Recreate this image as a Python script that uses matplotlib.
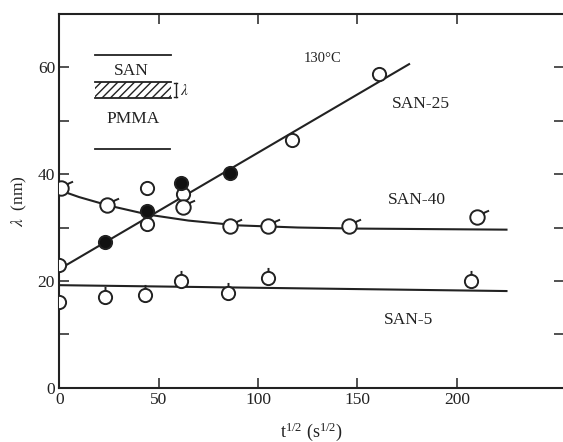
import numpy as np
import matplotlib.pyplot as plt
from matplotlib.path import Path

plt.rcParams['font.family'] = ['Liberation Serif', 'DejaVu Serif']
plt.rcParams['mathtext.fontset'] = 'stix'
ink = '#222222'

# SAN-25 (open and filled points) and fitted line
san25_open_x = [0, 44, 62, 117, 161]
san25_open_y = [22.9, 30.7, 36.2, 46.4, 58.8]
san25_fill_x = [23, 44, 61, 86]
san25_fill_y = [27.3, 33.1, 38.3, 40.2]
san25_line_x = [0, 176]
san25_line_y = [22.2, 60.6]

# SAN-40
san40_x = [1, 24, 62, 86, 105, 146, 210]
san40_y = [37.4, 34.3, 33.8, 30.3, 30.3, 30.2, 32.0]
san40_plain_x = [44]
san40_plain_y = [37.4]
san40_line_x = [0, 10, 25, 45, 65, 90, 120, 150, 225]
san40_line_y = [37.0, 35.7, 34.1, 32.4, 31.3, 30.4, 30.0, 29.8, 29.6]

# SAN-5
san5_x = [23, 43, 61, 85, 105, 207]
san5_y = [17.0, 17.3, 20.0, 17.8, 20.6, 19.9]
san5_plain_x = [0]
san5_plain_y = [16.1]
san5_line_x = [0, 225]
san5_line_y = [19.2, 18.1]

# custom markers: circle with a small stroke
circ = Path.unit_circle()
def marker_with_stroke(p0, p1):
    verts = list(circ.vertices) + [p0, p1]
    codes = list(circ.codes) + [Path.MOVETO, Path.LINETO]
    return Path(verts, codes)

m40 = marker_with_stroke((0.8, 0.6), (1.6, 0.95))
m5 = marker_with_stroke((0.0, 1.0), (0.0, 1.6))

fig = plt.figure(figsize=(5.63, 4.42), dpi=100)
ax = fig.add_axes([0.1053, 0.1229, 0.8967, 0.8455])

lw = 1.5
ax.plot(san25_line_x, san25_line_y, color=ink, lw=lw, zorder=1)
ax.plot(san40_line_x, san40_line_y, color=ink, lw=lw, zorder=1)
ax.plot(san5_line_x, san5_line_y, color=ink, lw=lw, zorder=1)

ms = 9.5
ax.plot(san25_open_x, san25_open_y, 'o', ms=ms, mfc='white', mec=ink, mew=1.4, ls='', zorder=3)
ax.plot(san25_fill_x, san25_fill_y, 'o', ms=ms, mfc='#111111', mec=ink, mew=1.4, ls='', zorder=4)
ax.plot(san40_x, san40_y, marker=m40, ms=ms * 1.75, mfc='white', mec=ink, mew=1.4, ls='', zorder=3)
ax.plot(san40_plain_x, san40_plain_y, 'o', ms=ms, mfc='white', mec=ink, mew=1.4, ls='', zorder=3)
ax.plot(san5_x, san5_y, marker=m5, ms=ms * 1.6, mfc='white', mec=ink, mew=1.4, ls='', zorder=3)
ax.plot(san5_plain_x, san5_plain_y, 'o', ms=ms, mfc='white', mec=ink, mew=1.4, ls='', zorder=3)

# labels
ax.text(132.5, 61.6, '130\u00b0C', fontsize=10.5, color=ink, ha='center', va='center')
ax.text(182, 53.1, 'SAN-25', fontsize=12.5, color=ink, ha='center', va='center')
ax.text(180, 35.1, 'SAN-40', fontsize=12.5, color=ink, ha='center', va='center')
ax.text(175.5, 12.6, 'SAN-5', fontsize=12.5, color=ink, ha='center', va='center')

# inset sketch of the layers
ax.plot([18, 56], [62.3, 62.3], color=ink, lw=1.3)
ax.text(36, 59.4, 'SAN', fontsize=12.5, color=ink, ha='center', va='center')
ax.fill_between([18, 56], 54.2, 57.2, facecolor='none', edgecolor=ink, hatch='////', lw=0)
ax.plot([18, 56], [57.2, 57.2], color=ink, lw=1.3)
ax.plot([18, 56], [54.2, 54.2], color=ink, lw=1.3)
ax.plot([58.5, 58.5], [54.4, 57.0], color=ink, lw=1.0)
ax.plot([57.6, 59.4], [57.0, 57.0], color=ink, lw=1.0)
ax.plot([57.6, 59.4], [54.4, 54.4], color=ink, lw=1.0)
ax.text(63, 55.7, r'$\lambda$', fontsize=11, color=ink, ha='center', va='center')
ax.text(37, 50.3, 'PMMA', fontsize=12.5, color=ink, ha='center', va='center')
ax.plot([18, 55.5], [44.7, 44.7], color=ink, lw=1.3)

ax.set_xlim(0, 254)
ax.set_ylim(0, 70)
ax.set_xticks([0, 50, 100, 150, 200])
ax.set_yticks([0, 20, 40, 60])
ax.set_yticks([10, 30, 50], minor=True)
ax.tick_params(axis='both', which='both', direction='in', colors=ink, labelsize=12.5,
               top=True, right=True, length=7, width=1.1)
ax.tick_params(axis='y', pad=3)
ax.tick_params(axis='x', pad=3)
for s in ax.spines.values():
    s.set_color(ink)
    s.set_linewidth(1.5)

ax.set_ylabel(r'$\lambda$  (nm)', fontsize=12.5, color=ink, labelpad=6)
ax.set_xlabel(r'$\mathregular{t^{1/2}\ (s^{1/2})}$', fontsize=13, color=ink, labelpad=9)

fig.savefig('out.png', dpi=100)
